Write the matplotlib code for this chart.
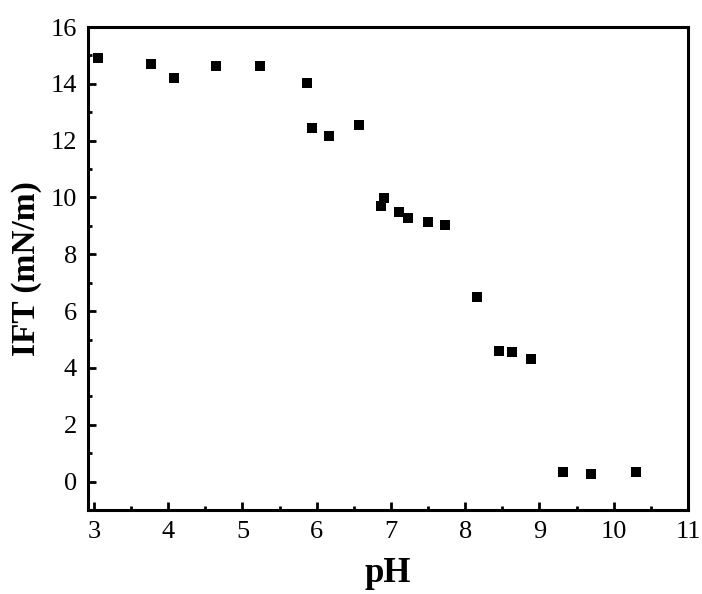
import matplotlib
matplotlib.use("Agg")
import matplotlib.pyplot as plt
from matplotlib.ticker import MultipleLocator

ph = [3.05, 3.77, 4.08, 4.64, 5.24, 5.87, 5.93, 6.16, 6.57, 6.86, 6.91, 7.11,
      7.23, 7.50, 7.73, 8.16, 8.46, 8.63, 8.88, 9.32, 9.70, 10.30]
ift = [14.91, 14.70, 14.19, 14.62, 14.62, 14.03, 12.43, 12.17, 12.56, 9.70, 9.98,
       9.49, 9.27, 9.13, 9.02, 6.50, 4.59, 4.56, 4.33, 0.33, 0.28, 0.33]

plt.rcParams['font.family'] = ['Liberation Serif', 'DejaVu Serif']

fig = plt.figure(figsize=(7.02, 5.94), dpi=100)
ax = fig.add_axes([88/702, 1-510/594, 600/702, 483/594])
ax.scatter(ph, ift, marker='s', s=52, color='black', linewidths=0, zorder=3)

ax.set_xlim(2.92, 11)
ax.set_ylim(-1, 16)
ax.xaxis.set_major_locator(MultipleLocator(1))
ax.xaxis.set_minor_locator(MultipleLocator(0.5))
ax.yaxis.set_major_locator(MultipleLocator(2))
ax.yaxis.set_minor_locator(MultipleLocator(1))
ax.tick_params(which='both', direction='in', top=False, right=False, labelsize=19, pad=8)
ax.tick_params(which='major', length=6, width=2)
ax.tick_params(which='minor', length=3, width=2)
for s in ax.spines.values():
    s.set_linewidth(2.2)

ax.set_xlabel('pH', fontsize=25, fontweight='bold', labelpad=10)
ax.set_ylabel('IFT (mN/m)', fontsize=24, fontweight='bold', labelpad=6)

fig.savefig('out.png', dpi=100)
